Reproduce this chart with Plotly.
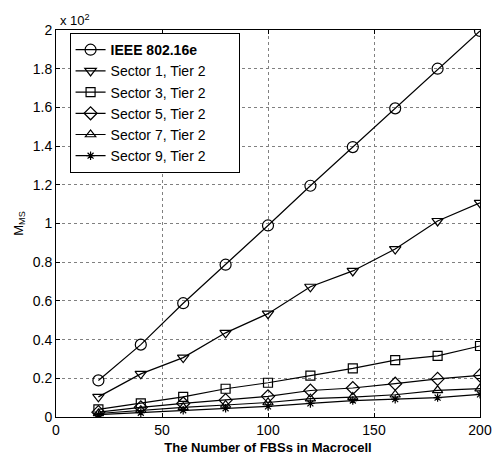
import plotly.graph_objects as go

x_fbs = [20, 40, 60, 80, 100, 120, 140, 160, 180, 200]
ieee = [0.189, 0.374, 0.588, 0.787, 0.99, 1.195, 1.395, 1.595, 1.80, 1.995]
sector1 = [0.104, 0.223, 0.307, 0.435, 0.534, 0.673, 0.755, 0.868, 1.013, 1.107]
sector3 = [0.039, 0.07, 0.104, 0.146, 0.177, 0.214, 0.251, 0.294, 0.316, 0.367]
sector5 = [0.025, 0.05, 0.07, 0.087, 0.107, 0.137, 0.15, 0.172, 0.197, 0.215]
sector7 = [0.018, 0.035, 0.05, 0.062, 0.075, 0.095, 0.103, 0.115, 0.138, 0.147]
sector9 = [0.012, 0.022, 0.035, 0.045, 0.055, 0.07, 0.085, 0.092, 0.1, 0.117]

names = ["<b>IEEE 802.16e</b>", "Sector 1, Tier 2", "Sector 3, Tier 2",
         "Sector 5, Tier 2", "Sector 7, Tier 2", "Sector 9, Tier 2"]
series = [ieee, sector1, sector3, sector5, sector7, sector9]
symbols = ["circle-open", "triangle-down-open", "square-open",
           "diamond-open", "triangle-up-open", "asterisk-open"]
sizes = [11, 10, 9, 10, 9, 7]

font = "Liberation Sans, Arial, sans-serif"
pad = "&nbsp;" * 7
fig = go.Figure()
for n, s, sym, sz in zip(names, series, symbols, sizes):
    fig.add_trace(go.Scatter(
        x=x_fbs, y=s, name=n + pad, mode="lines+markers",
        line=dict(color="black", width=1.2),
        marker=dict(symbol=sym, size=sz, color="black",
                    line=dict(color="black", width=1.2)),
    ))

axis_common = dict(
    showline=True, linecolor="black", linewidth=1, mirror="ticks",
    ticks="inside", ticklen=4, tickcolor="black",
    showgrid=True, gridcolor="#808080", griddash="dot", gridwidth=1,
    zeroline=False, tickfont=dict(size=14, color="black", family=font),
)
fig.update_xaxes(range=[0, 200], tickvals=[0, 50, 100, 150, 200],
                 title=dict(text="<b>The Number of FBSs in Macrocell</b>",
                            font=dict(size=13, color="black", family=font),
                            standoff=6),
                 **axis_common)
fig.update_yaxes(range=[0, 2], dtick=0.2,
                 title=dict(text="M<sub>MS</sub>",
                            font=dict(size=13, color="black", family=font),
                            standoff=6),
                 **axis_common)

fig.add_annotation(x=0, y=1, xref="paper", yref="paper", xanchor="left",
                   yanchor="bottom", xshift=2, yshift=0, showarrow=False,
                   text="x 10<sup>2</sup>",
                   font=dict(size=13, color="black", family=font))

fig.update_layout(
    width=504, height=465,
    margin=dict(l=56, r=12, t=30, b=42),
    paper_bgcolor="white", plot_bgcolor="white",
    font=dict(family=font, color="black"),
    showlegend=True,
    legend=dict(x=0.032, y=0.992, xanchor="left", yanchor="top",
                bgcolor="white", bordercolor="black", borderwidth=1,
                font=dict(size=14, color="black", family=font),
                tracegroupgap=0, itemwidth=30),
)

fig.write_html("out.html", config={"displayModeBar": False},
               post_script="document.body.style.margin='0';document.body.style.overflow='hidden';")
